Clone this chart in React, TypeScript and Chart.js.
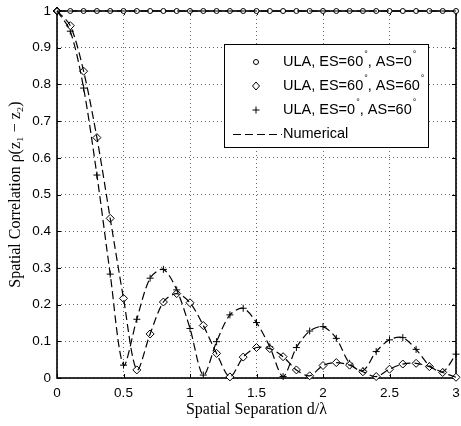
import React, { useEffect, useRef } from "react";
import { Chart, registerables } from "chart.js";

Chart.register(...registerables);

const separations = [
  0, 0.1, 0.2, 0.3, 0.4, 0.5, 0.6, 0.7, 0.8, 0.9, 1.0, 1.1, 1.2, 1.3, 1.4, 1.5,
  1.6, 1.7, 1.8, 1.9, 2.0, 2.1, 2.2, 2.3, 2.4, 2.5, 2.6, 2.7, 2.8, 2.9, 3.0,
];

const ulaEs60As0 = [
  1, 1, 1, 1, 1, 1, 1, 1, 1, 1, 1, 1, 1, 1, 1, 1, 1, 1, 1, 1, 1, 1, 1, 1, 1, 1,
  1, 1, 1, 1, 1,
];

const ulaEs60As60 = [
  1, 0.96, 0.836, 0.655, 0.435, 0.217, 0.022, 0.12, 0.207, 0.23, 0.205, 0.143,
  0.067, 0.003, 0.057, 0.083, 0.08, 0.058, 0.022, 0.006, 0.034, 0.042, 0.035,
  0.017, 0.004, 0.024, 0.038, 0.04, 0.031, 0.015, 0.002,
];

const ulaEs0As60 = [
  1, 0.945, 0.79, 0.553, 0.283, 0.035, 0.16, 0.272, 0.296, 0.24, 0.135, 0.008,
  0.099, 0.172, 0.19, 0.151, 0.085, 0.004, 0.083, 0.128, 0.14, 0.108, 0.04,
  0.02, 0.072, 0.104, 0.11, 0.078, 0.034, 0.017, 0.065,
];

const xTicks = [0, 0.5, 1, 1.5, 2, 2.5, 3];
const yTicks = [0, 0.1, 0.2, 0.3, 0.4, 0.5, 0.6, 0.7, 0.8, 0.9, 1];

const legendRows = [
  { base: "ULA, ES=60", mid: ", AS=0", marker: "circle" },
  { base: "ULA, ES=60", mid: ", AS=60", marker: "diamond" },
  { base: "ULA, ES=0", mid: ", AS=60", marker: "plus" },
];
const numericalLabel = "Numerical";

const SANS = "'Liberation Sans', Arial, Helvetica, sans-serif";
const SERIF = "'Liberation Serif', 'DejaVu Serif', 'Times New Roman', serif";

const toPoints = (ys: number[]) => separations.map((x, i) => ({ x, y: ys[i] }));
const fmtTick = (v: any) => String(Math.round(Number(v) * 10) / 10);

function drawMarker(ctx: CanvasRenderingContext2D, kind: string, x: number, y: number) {
  ctx.beginPath();
  if (kind === "circle") {
    ctx.arc(x, y, 2.5, 0, Math.PI * 2);
    ctx.fillStyle = "#fff";
    ctx.fill();
    ctx.stroke();
  } else if (kind === "diamond") {
    ctx.moveTo(x, y - 4);
    ctx.lineTo(x + 3.5, y);
    ctx.lineTo(x, y + 4);
    ctx.lineTo(x - 3.5, y);
    ctx.closePath();
    ctx.fillStyle = "#fff";
    ctx.fill();
    ctx.stroke();
  } else {
    ctx.moveTo(x - 3.5, y);
    ctx.lineTo(x + 3.5, y);
    ctx.moveTo(x, y - 3.5);
    ctx.lineTo(x, y + 3.5);
    ctx.stroke();
  }
}

const framePlugin = {
  id: "matlabFrame",
  beforeDatasetsDraw(chart: any) {
    const { ctx, chartArea } = chart;
    const { left, right, top, bottom } = chartArea;
    const xs = chart.scales.x;
    const ys = chart.scales.y;
    ctx.save();
    ctx.strokeStyle = "#000";
    ctx.lineWidth = 1;
    ctx.setLineDash([]);
    ctx.beginPath();
    xTicks.forEach((v) => {
      const px = Math.round(xs.getPixelForValue(v)) + 0.5;
      ctx.moveTo(px, bottom);
      ctx.lineTo(px, bottom - 4);
      ctx.moveTo(px, top);
      ctx.lineTo(px, top + 4);
    });
    yTicks.forEach((v) => {
      const py = Math.round(ys.getPixelForValue(v)) + 0.5;
      ctx.moveTo(left, py);
      ctx.lineTo(left + 4, py);
      ctx.moveTo(right, py);
      ctx.lineTo(right - 4, py);
    });
    ctx.stroke();
    ctx.lineWidth = 1.6;
    ctx.strokeRect(left, top, right - left, bottom - top);
    ctx.restore();
  },
  afterDatasetsDraw(chart: any) {
    const { ctx, chartArea } = chart;
    const bx = chartArea.left + 167;
    const by = chartArea.top + 33;
    const bw = 204;
    const bh = 103;
    ctx.save();
    ctx.setLineDash([]);
    ctx.fillStyle = "#fff";
    ctx.fillRect(bx, by, bw, bh);
    ctx.strokeStyle = "#000";
    ctx.lineWidth = 1;
    ctx.strokeRect(bx + 0.5, by + 0.5, bw, bh);

    const textX = bx + 59;
    const markX = bx + 32;
    const rowY = [by + 18, by + 42, by + 66, by + 90];
    ctx.textBaseline = "middle";
    ctx.textAlign = "left";
    legendRows.forEach((row, i) => {
      const y = rowY[i];
      ctx.strokeStyle = "#000";
      ctx.lineWidth = 1;
      drawMarker(ctx, row.marker, markX, y);
      ctx.fillStyle = "#000";
      ctx.font = `14.5px ${SANS}`;
      let x = textX;
      ctx.fillText(row.base, x, y);
      x += ctx.measureText(row.base).width + 1;
      ctx.font = `9px ${SANS}`;
      ctx.fillText("°", x, y - 7);
      x += ctx.measureText("°").width;
      ctx.font = `14.5px ${SANS}`;
      ctx.fillText(row.mid, x, y);
      x += ctx.measureText(row.mid).width + 1;
      ctx.font = `9px ${SANS}`;
      ctx.fillText("°", x, y - 7);
    });
    const ny = rowY[3];
    ctx.beginPath();
    ctx.setLineDash([8, 4]);
    ctx.lineWidth = 1.2;
    ctx.moveTo(bx + 9, ny + 0.5);
    ctx.lineTo(textX - 1, ny + 0.5);
    ctx.stroke();
    ctx.setLineDash([]);
    ctx.font = `14.5px ${SANS}`;
    ctx.fillStyle = "#000";
    ctx.fillText(numericalLabel, textX, ny);
    ctx.restore();
  },
};

const dashedLine = (ys: number[]) => ({
  data: toPoints(ys),
  borderColor: "#000",
  borderWidth: 1.2,
  borderDash: [8, 4],
  pointRadius: 0,
  showLine: true,
  tension: 0.3,
  fill: false,
  clip: 1,
});

const markerSet = (ys: number[], style: string, radius: number) => ({
  data: toPoints(ys),
  showLine: false,
  pointStyle: style,
  pointRadius: radius,
  pointBorderColor: "#000",
  pointBackgroundColor: "#fff",
  pointBorderWidth: 1,
  borderColor: "#000",
  backgroundColor: "#fff",
  clip: false,
});

export default function App() {
  const canvasRef = useRef<HTMLCanvasElement | null>(null);

  useEffect(() => {
    document.body.style.margin = "0";
    const canvas = canvasRef.current;
    if (!canvas) return;
    const chart = new Chart(canvas, {
      type: "scatter",
      data: {
        datasets: [
          dashedLine(ulaEs60As0),
          dashedLine(ulaEs60As60),
          dashedLine(ulaEs0As60),
          markerSet(ulaEs60As0, "circle", 2.5),
          markerSet(ulaEs60As60, "rectRot", 4),
          markerSet(ulaEs0As60, "cross", 3.5),
        ] as any,
      },
      options: {
        animation: false,
        responsive: false,
        devicePixelRatio: 1,
        layout: { padding: { top: 11, right: 2, left: 0, bottom: 0 } },
        plugins: {
          legend: { display: false },
          tooltip: { enabled: false },
        },
        scales: {
          x: {
            type: "linear",
            min: 0,
            max: 3,
            afterFit: (s: any) => {
              s.height = 48;
              s.paddingLeft = 0;
              s.paddingRight = 0;
            },
            afterBuildTicks: (s: any) => {
              s.ticks = xTicks.map((v) => ({ value: v }));
            },
            ticks: {
              font: { family: SANS, size: 13.5 },
              color: "#000",
              padding: 7,
              maxRotation: 0,
              callback: fmtTick,
            },
            grid: {
              color: "rgba(0,0,0,0.6)",
              lineWidth: 1,
              drawTicks: false,
            },
            border: { display: false, dash: [1, 3] },
            title: {
              display: true,
              text: "Spatial Separation d/λ",
              font: { family: SERIF, size: 16 },
              color: "#000",
              padding: { top: 0, bottom: 7 },
            },
          },
          y: {
            type: "linear",
            min: 0,
            max: 1,
            afterFit: (s: any) => {
              s.width = 57;
              s.paddingTop = 0;
              s.paddingBottom = 0;
            },
            afterBuildTicks: (s: any) => {
              s.ticks = yTicks.map((v) => ({ value: v }));
            },
            ticks: {
              font: { family: SANS, size: 13.5 },
              color: "#000",
              padding: 6,
              callback: fmtTick,
            },
            grid: {
              color: "rgba(0,0,0,0.6)",
              lineWidth: 1,
              drawTicks: false,
            },
            border: { display: false, dash: [1, 3] },
            title: {
              display: true,
              text: "Spatial Correlation ρ(z₁ − z₂)",
              font: { family: SERIF, size: 16 },
              color: "#000",
              padding: { top: 6, bottom: 0 },
            },
          },
        },
      },
      plugins: [framePlugin],
    });
    return () => chart.destroy();
  }, []);

  return (
    <div style={{ width: 461, height: 426 }}>
      <canvas ref={canvasRef} width={461} height={426} style={{ display: "block" }} />
    </div>
  );
}
